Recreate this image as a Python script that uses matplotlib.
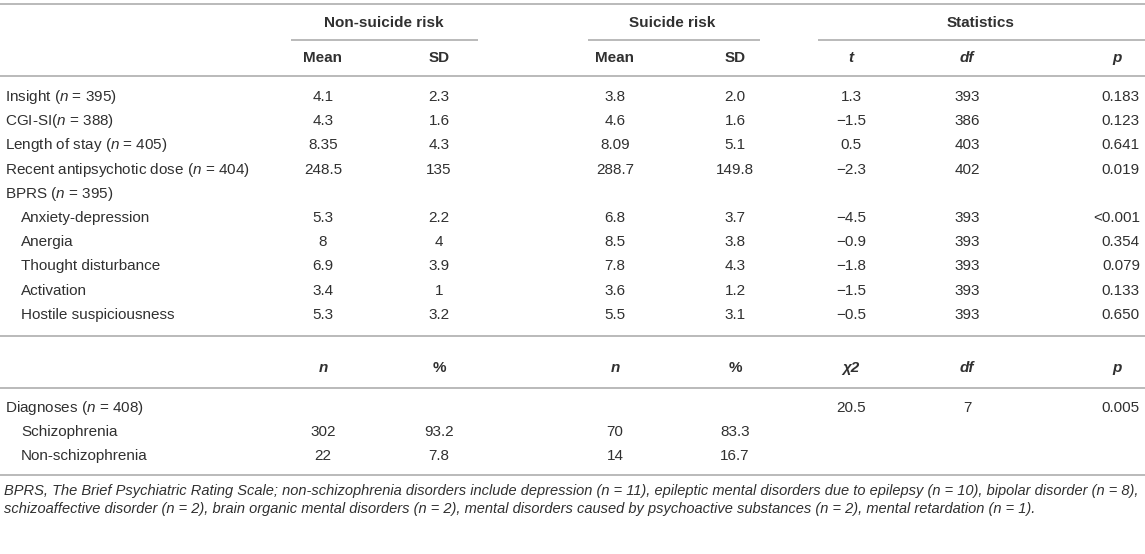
import matplotlib
matplotlib.use("Agg")
from matplotlib import pyplot as plt

plt.rcParams['font.family'] = ['Liberation Sans', 'DejaVu Sans']
plt.rcParams['mathtext.fontset'] = 'custom'
plt.rcParams['mathtext.rm'] = 'Liberation Sans'
plt.rcParams['mathtext.it'] = 'Liberation Sans:italic'

# table data
row_labels = ["Insight ($n$ = 395)", "CGI-SI($n$ = 388)", "Length of stay ($n$ = 405)",
              "Recent antipsychotic dose ($n$ = 404)", "BPRS ($n$ = 395)",
              "Anxiety-depression", "Anergia", "Thought disturbance", "Activation",
              "Hostile suspiciousness"]
row_indent = [0, 0, 0, 0, 0, 1, 1, 1, 1, 1]
nonsuicide_mean = ["4.1", "4.3", "8.35", "248.5", "", "5.3", "8", "6.9", "3.4", "5.3"]
nonsuicide_sd = ["2.3", "1.6", "4.3", "135", "", "2.2", "4", "3.9", "1", "3.2"]
suicide_mean = ["3.8", "4.6", "8.09", "288.7", "", "6.8", "8.5", "7.8", "3.6", "5.5"]
suicide_sd = ["2.0", "1.6", "5.1", "149.8", "", "3.7", "3.8", "4.3", "1.2", "3.1"]
t_vals = ["1.3", "\u22121.5", "0.5", "\u22122.3", "", "\u22124.5", "\u22120.9", "\u22121.8", "\u22121.5", "\u22120.5"]
df_vals = ["393", "386", "403", "402", "", "393", "393", "393", "393", "393"]
p_vals = ["0.183", "0.123", "0.641", "0.019", "", "<0.001", "0.354", "0.079", "0.133", "0.650"]

diag_labels = ["Diagnoses ($n$ = 408)", "Schizophrenia", "Non-schizophrenia"]
diag_indent = [0, 1, 1]
nonsuicide_n = ["", "302", "22"]
nonsuicide_pct = ["", "93.2", "7.8"]
suicide_n = ["", "70", "14"]
suicide_pct = ["", "83.3", "16.7"]
chi2_vals = ["20.5", "", ""]
diag_df = ["7", "", ""]
diag_p = ["0.005", "", ""]

group_headers = ["Non-suicide risk", "Suicide risk", "Statistics"]
sub_headers_1 = ["Mean", "SD", "Mean", "SD", "t", "df", "p"]
sub_headers_2 = ["n", "%", "n", "%", "\u03c72", "df", "p"]
sub_italic = [False, False, False, False, True, True, True]
sub_italic_2 = [True, False, True, False, True, True, True]

footnote = ("BPRS, The Brief Psychiatric Rating Scale; non-schizophrenia disorders include depression (n = 11), "
            "epileptic mental disorders due to epilepsy (n = 10), bipolar disorder (n = 8),\n"
            "schizoaffective disorder (n = 2), brain organic mental disorders (n = 2), mental disorders caused "
            "by psychoactive substances (n = 2), mental retardation (n = 1).")

# layout (pixels)
W, H = 1145, 554
col_x = [323, 439, 615, 735, 851, 967, 1140]
col_ha = ["center"] * 6 + ["right"]
head_x = col_x[:6] + [1117]
head_ha = ["center"] * 7
group_x = [384, 672, 981]
group_spans = [(291, 478), (588, 760), (818, 1145)]
txt_color = "#303030"
line_color = "#b4b4b4"
fs = 11

fig = plt.figure(figsize=(W / 100, H / 100), dpi=100)
ax = fig.add_axes([0, 0, 1, 1])
ax.set_xlim(0, W)
ax.set_ylim(H, 0)
ax.axis("off")


def hline(y, x0=0, x1=W):
    ax.plot([x0, x1], [y, y], color=line_color, lw=1.3, solid_capstyle="butt")


def put(x, y, s, ha="center", **kw):
    ax.text(x, y, s, ha=ha, va="center", fontsize=fs, color=txt_color, **kw)


hline(4)
for name, gx, (x0, x1) in zip(group_headers, group_x, group_spans):
    put(gx, 23, name, fontweight="bold")
    hline(40, x0, x1)
for s, x, ha, it in zip(sub_headers_1, head_x, head_ha, sub_italic):
    put(x, 58, s, ha=ha, fontweight="bold", fontstyle="italic" if it else "normal")
hline(76)

cols = [nonsuicide_mean, nonsuicide_sd, suicide_mean, suicide_sd, t_vals, df_vals, p_vals]
y0, dy = 97, 24.2
for i, lab in enumerate(row_labels):
    y = y0 + i * dy
    put(5 + 16 * row_indent[i], y, lab, ha="left")
    for c, x, ha in zip(cols, col_x, col_ha):
        put(x, y, c[i], ha=ha)

hline(336)
for s, x, ha, it in zip(sub_headers_2, head_x, head_ha, sub_italic_2):
    put(x, 368, s, ha=ha, fontweight="bold", fontstyle="italic" if it else "normal")
hline(388)

cols2 = [nonsuicide_n, nonsuicide_pct, suicide_n, suicide_pct, chi2_vals, diag_df, diag_p]
for i, lab in enumerate(diag_labels):
    y = 408 + i * dy
    put(5 + 16 * diag_indent[i], y, lab, ha="left")
    for c, x, ha in zip(cols2, col_x, col_ha):
        put(x, y, c[i], ha=ha)
hline(475)

ax.text(4, 500, footnote, ha="left", va="center", fontsize=10.5, color=txt_color,
        fontstyle="italic", linespacing=1.45)

fig.savefig("out.png", dpi=100)
